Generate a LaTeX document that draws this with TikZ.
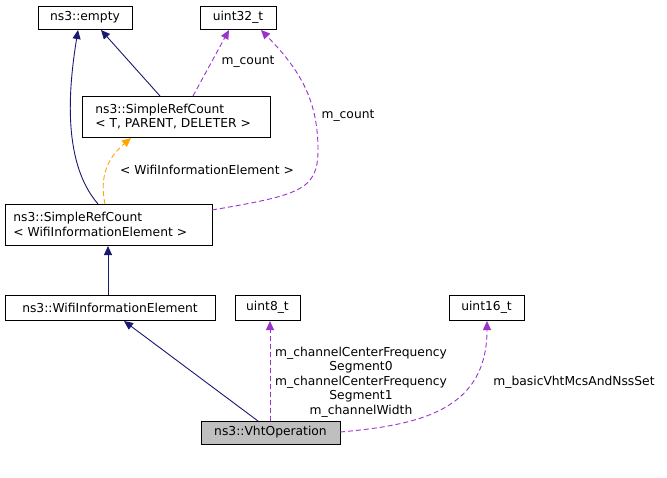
\documentclass[tikz,border=0pt]{standalone}
\usepackage{fontspec}
\setmainfont{DejaVu Sans}
\usetikzlibrary{arrows.meta}
\definecolor{navy}{HTML}{191970}
\definecolor{purp}{HTML}{9A32CD}
\definecolor{orng}{HTML}{FFA500}
\tikzset{txt/.style={anchor=west, inner sep=0pt, align=left},
  arr/.style={line width=0.9pt, -{Triangle[length=9pt,width=8pt,fill=#1]}},
  inh/.style={navy, arr=navy},
  use/.style={purp, arr=purp, dash pattern=on 5pt off 3pt},
  tpl/.style={orng, arr=orng, dash pattern=on 5pt off 3pt},
  lbl/.style={align=center, inner sep=0pt}}
\begin{document}
\begin{tikzpicture}[x=1pt,y=-1pt, font=\fontsize{12.3}{14.5}\selectfont, line width=0.9pt]
\useasboundingbox (0,0) rectangle (667,477);
% classes
\draw (38,6) rectangle (132,29); \node (empty) at (85,17.5) {ns3::empty};
\draw (200,6) rectangle (276,29); \node (u32) at (238,17.5) {uint32\_t};
\draw (82,96) rectangle (270,137);
\node[txt] (srct) at (95,116.5) {ns3::SimpleRefCount\\\textless{} T, PARENT, DELETER \textgreater};
\draw (5,204) rectangle (212,245);
\node[txt] (srcw) at (13,224.5) {ns3::SimpleRefCount\\\textless{} WifiInformationElement \textgreater};
\draw (5,295) rectangle (215,320); \node (wie) at (110,307.5) {ns3::WifiInformationElement};
\draw (235,295) rectangle (300,320); \node (u8) at (267.5,307.5) {uint8\_t};
\draw (449,295) rectangle (524,320); \node (u16) at (486.5,307.5) {uint16\_t};
\draw[fill=black!25] (201,421) rectangle (340,444); \node (vht) at (270.5,432.5) {ns3::VhtOperation};
% inheritance
\draw[inh] (160,96) -- (101,30);
\draw[inh] (98,204) .. controls (60,160) and (70,80) .. (78,30);
\draw[inh] (108,295) -- (108,246);
\draw[inh] (258,421) -- (124,321);
% members
\draw[use] (193,96) -- (229,30);
\node[lbl] at (248,62) {m\_count};
\draw[use] (212,210) .. controls (300,195) and (318,190) .. (318,150)
  .. controls (318,100) and (300,70) .. (261,30);
\node[lbl] at (348,116) {m\_count};
\draw[tpl] (105,204) .. controls (100,180) and (105,160) .. (131,138);
\node[lbl] at (207,170) {\textless{} WifiInformationElement \textgreater};
\draw[use] (270,421) -- (270,321);
\node[lbl] at (361,382) {m\_channelCenterFrequency\\Segment0\\m\_channelCenterFrequency\\Segment1\\m\_channelWidth};
\draw[use] (340,432) .. controls (420,425) and (487,410) .. (487,321);
\node[lbl] at (574,382) {m\_basicVhtMcsAndNssSet};
\end{tikzpicture}
\end{document}
